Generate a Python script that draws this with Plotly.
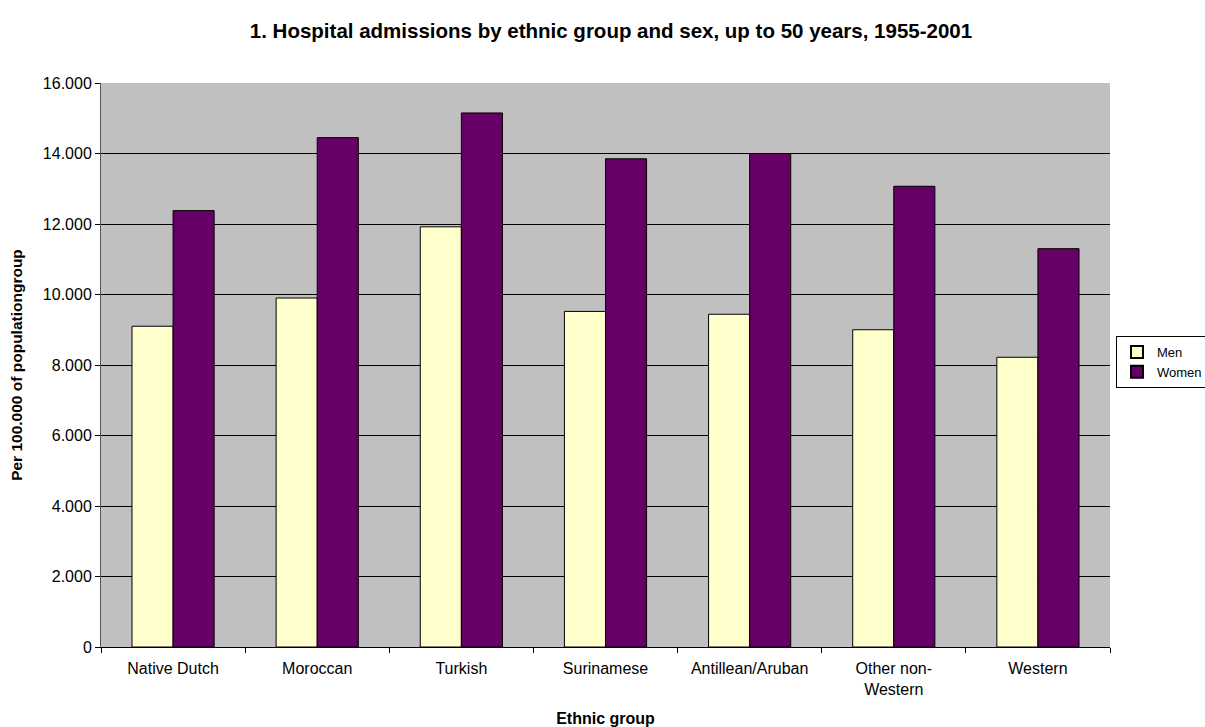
import plotly.graph_objects as go

categories = ["Native Dutch", "Moroccan", "Turkish", "Surinamese",
              "Antillean/Aruban", "Other non-<br>Western", "Western"]
men = [9100, 9900, 11920, 9520, 9440, 9000, 8220]
women = [12380, 14450, 15150, 13850, 14000, 13070, 11300]
y_ticks = [0, 2000, 4000, 6000, 8000, 10000, 12000, 14000, 16000]
y_tick_labels = ["0", "2.000", "4.000", "6.000", "8.000", "10.000", "12.000", "14.000", "16.000"]

FONT = "Liberation Sans, Arial, sans-serif"

fig = go.Figure()
fig.add_trace(go.Bar(x=categories, y=men, name="Men",
                     marker=dict(color="#FFFFCC", line=dict(color="#000000", width=1))))
fig.add_trace(go.Bar(x=categories, y=women, name="Women",
                     marker=dict(color="#660066", line=dict(color="#000000", width=1))))

fig.update_layout(
    width=1205, height=727,
    margin=dict(l=101, r=95, t=83, b=80, autoexpand=False),
    paper_bgcolor="#FFFFFF",
    plot_bgcolor="#C0C0C0",
    font=dict(family=FONT, size=16, color="#000000"),
    title=dict(text="<b>1. Hospital admissions by ethnic group and sex, up to 50 years, 1955-2001</b>",
               x=611 / 1205, xanchor="center", y=1 - 31 / 727, yanchor="middle",
               font=dict(size=20.5, family=FONT, color="#000000")),
    barmode="group",
    bargap=0.43,
    bargroupgap=0,
    showlegend=True,
    legend=dict(xref="container", yref="container",
                x=1116 / 1205, y=1 - 336 / 727, xanchor="left", yanchor="top",
                bgcolor="#FFFFFF", bordercolor="#000000", borderwidth=1,
                font=dict(size=13, family=FONT), tracegroupgap=0,
                itemsizing="constant", itemwidth=30),
    xaxis=dict(
        title=dict(text="<b>Ethnic group</b>", font=dict(size=16, family=FONT), standoff=16),
        showline=True, linecolor="#000000", linewidth=1,
        ticks="outside", ticklen=5, tickcolor="#000000", tickson="boundaries",
        tickfont=dict(size=16, family=FONT), ticklabelstandoff=7,
        showgrid=False, automargin=False,
    ),
    yaxis=dict(
        title=dict(text="<b>Per 100.000 of populationgroup</b>", font=dict(size=15.5, family=FONT), standoff=16),
        range=[0, 16000],
        tickvals=y_ticks, ticktext=y_tick_labels,
        showline=True, linecolor="#555555", linewidth=1,
        ticks="outside", ticklen=5, tickcolor="#000000",
        showgrid=True, gridcolor="#000000", gridwidth=1,
        zeroline=False, automargin=False,
        tickfont=dict(size=16, family=FONT),
    ),
)

fig.write_html("out.html")
